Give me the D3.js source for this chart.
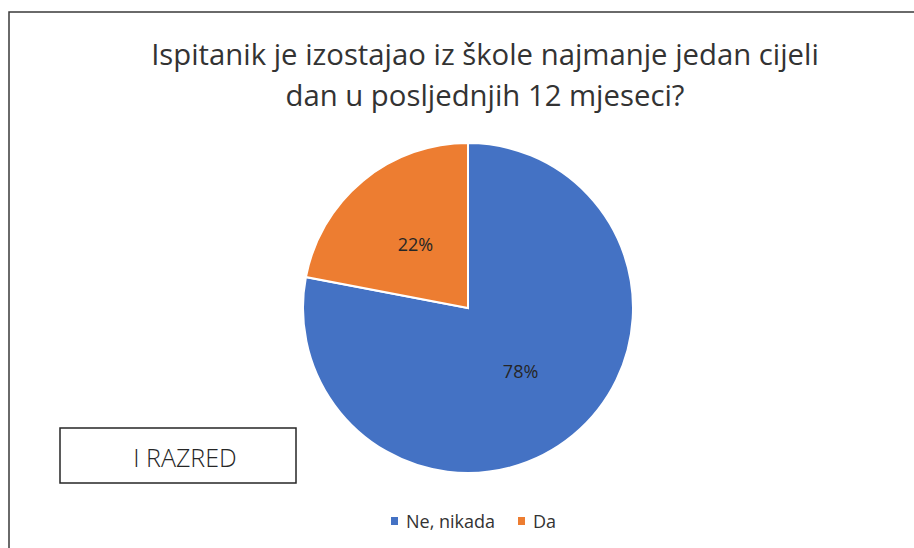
<!DOCTYPE html>
<html>
<head>
<meta charset="utf-8">
<script src="https://cdn.jsdelivr.net/npm/d3@7"></script>
<style>
  body { margin: 0; background: #fff; }
  text { font-family: "Open Sans", "Noto Sans", sans-serif; }
</style>
</head>
<body>
<svg width="914" height="548"></svg>
<script>
// data
var categories = ["Ne, nikada", "Da"];
var values = [78, 22];
var colors = ["#4472C4", "#ED7D31"];
var titleLines = ["Ispitanik je izostajao iz škole najmanje jedan cijeli", "dan u posljednjih 12 mjeseci?"];
var boxLabel = "I RAZRED";

var svg = d3.select("svg");

// chart frame (runs off the right and bottom)
svg.append("rect")
  .attr("x", 9).attr("y", 12)
  .attr("width", 1000).attr("height", 600)
  .attr("fill", "none")
  .attr("stroke", "#3a3a3a")
  .attr("stroke-width", 1.5);

// title
svg.append("g").selectAll("text")
  .data(titleLines)
  .enter()
  .append("text")
    .attr("x", 485)
    .attr("y", (d, i) => 65 + i * 41)
    .attr("text-anchor", "middle")
    .attr("fill", "#333")
    .attr("font-size", 29.3)
    .text(d => d);

// pie
var r = 165;
var pie = d3.pie().sort(null).value(d => d);
var arc = d3.arc().innerRadius(0).outerRadius(r);
var g = svg.append("g").attr("transform", "translate(468,308)");

g.selectAll("path")
  .data(pie(values))
  .enter()
  .append("path")
    .attr("d", arc)
    .attr("fill", (d, i) => colors[i])
    .attr("stroke", "#fff")
    .attr("stroke-width", 2);

var total = d3.sum(values);
g.selectAll("text.lbl")
  .data(pie(values))
  .enter()
  .append("text")
    .attr("class", "lbl")
    .attr("transform", d => "translate(" + arc.centroid(d) + ")")
    .attr("text-anchor", "middle")
    .attr("dy", "0.35em")
    .attr("fill", "#262626")
    .attr("font-size", 18)
    .text(d => Math.round(d.data / total * 100) + "%");

// class box
svg.append("rect")
  .attr("x", 60).attr("y", 428)
  .attr("width", 236).attr("height", 55)
  .attr("fill", "#fff")
  .attr("stroke", "#262626")
  .attr("stroke-width", 1.5);
svg.append("text")
  .attr("x", 185).attr("y", 467)
  .attr("text-anchor", "middle")
  .attr("fill", "#262626")
  .attr("font-size", 25)
  .attr("font-weight", 300)
  .text(boxLabel);

// legend
var legendX = [391, 518];
var leg = svg.append("g").selectAll("g")
  .data(categories)
  .enter()
  .append("g")
    .attr("transform", (d, i) => "translate(" + legendX[i] + ",521)");
leg.append("rect")
  .attr("x", 0).attr("y", -4)
  .attr("width", 7).attr("height", 8)
  .attr("fill", (d, i) => colors[i]);
leg.append("text")
  .attr("x", 15).attr("y", 6.5)
  .attr("fill", "#333")
  .attr("font-size", 18)
  .text(d => d);
</script>
</body>
</html>
